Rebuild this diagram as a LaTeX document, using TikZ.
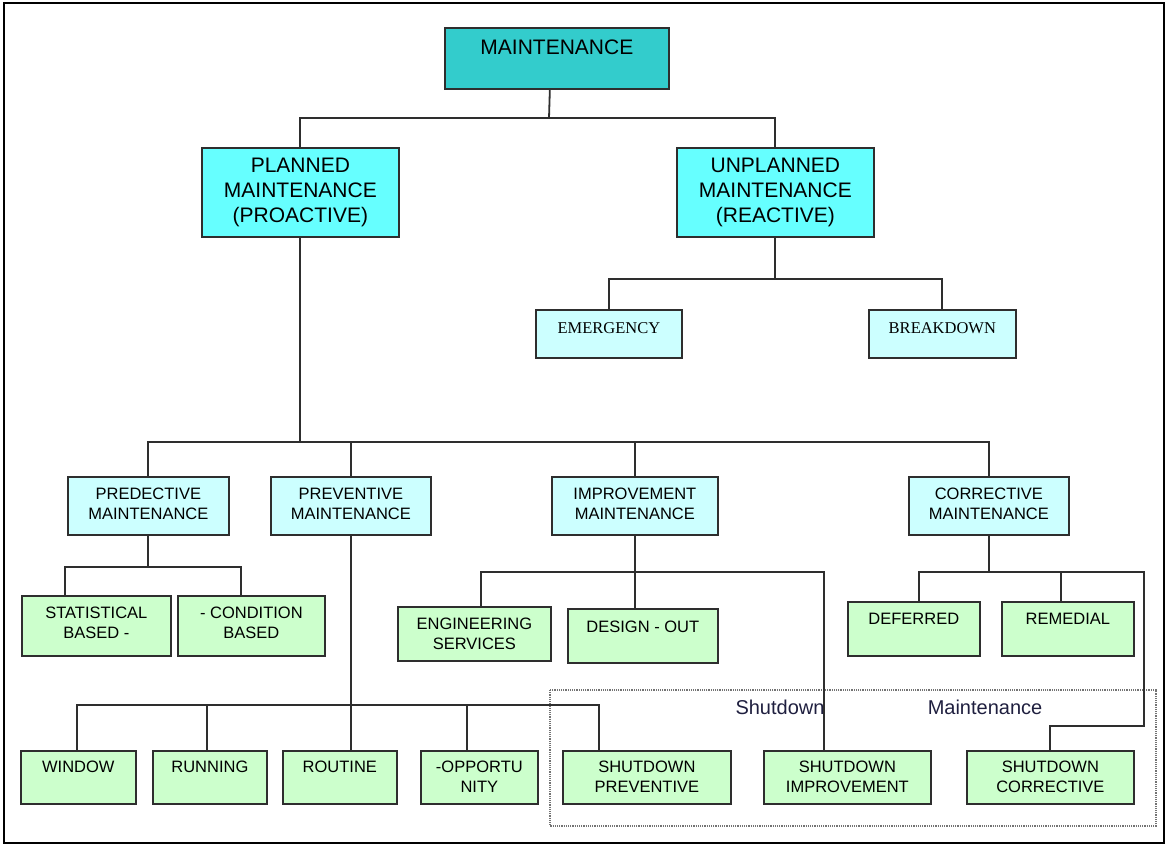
\documentclass[tikz,border=0pt]{standalone}
\usepackage{fontspec}
\setmainfont{Liberation Sans}
\newfontfamily\timesfont{Liberation Serif}
\usepackage{xcolor}
\definecolor{teal1}{HTML}{33CCCC}
\definecolor{cyan1}{HTML}{66FFFF}
\definecolor{cyan2}{HTML}{CCFFFF}
\definecolor{green1}{HTML}{CCFFCC}
\definecolor{line1}{HTML}{2E2E2E}
\definecolor{label1}{HTML}{1F1F3F}

\begin{document}
\begin{tikzpicture}[x=1pt,y=-1pt]
		\tikzset{box/.style = {draw=line1, line width=1.7pt, inner sep=0pt, anchor=north west, align=center, font=\fontsize{16.5}{20}\selectfont}}
		\tikzset{head/.style = {box, fill=cyan1, font=\fontsize{21}{25}\selectfont, minimum width=197pt, text height=75pt, text depth=14pt}}
		\tikzset{type/.style = {box, fill=cyan2, text height=43pt, text depth=15pt}}
		\tikzset{leaf/.style = {box, fill=green1, text depth=#1}}
		\tikzset{low/.style = {leaf=31pt, text height=22pt}}
		\tikzset{lowtwo/.style = {leaf=11pt, text height=42pt}}
		\tikzset{link/.style = {draw=line1, line width=1.8pt}}

		\useasboundingbox (0,0) rectangle (1169,847);
		\draw[line width=2.5pt] (4,3) rectangle (1164,843);

		\node[box, fill=teal1, font=\fontsize{21}{25}\selectfont, minimum width=224pt, text height=27pt, text depth=34pt] (M) at (444,27) {MAINTENANCE};
		\node[head] (P) at (201,147) {PLANNED\\MAINTENANCE\\(PROACTIVE)};
		\node[head] (U) at (676,147) {UNPLANNED\\MAINTENANCE\\(REACTIVE)};

		\node[type, font=\timesfont\fontsize{16.5}{20}\selectfont, minimum width=146pt, text height=24pt, text depth=24pt] (U_1) at (535,309) {EMERGENCY};
		\node[type, font=\timesfont\fontsize{16.5}{20}\selectfont, minimum width=147pt, text height=24pt, text depth=24pt] (U_2) at (868,309) {BREAKDOWN};

		\node[type, minimum width=161pt] (P_1) at (67,476) {PREDECTIVE\\MAINTENANCE};
		\node[type, minimum width=160pt] (P_2) at (270,476) {PREVENTIVE\\MAINTENANCE};
		\node[type, minimum width=166pt] (P_3) at (551,476) {IMPROVEMENT\\MAINTENANCE};
		\node[type, minimum width=160pt] (P_4) at (908,476) {CORRECTIVE\\MAINTENANCE};

		\node[leaf=17pt, text height=43pt, minimum width=149pt] (P_11) at (21,595) {STATISTICAL\\BASED -};
		\node[leaf=17pt, text height=43pt, minimum width=147pt] (P_12) at (177,595) {- CONDITION\\BASED};

		\node[low, minimum width=115pt] (P_21) at (20,750) {WINDOW};
		\node[low, minimum width=114pt] (P_22) at (152,750) {RUNNING};
		\node[low, minimum width=114pt] (P_23) at (282,750) {ROUTINE};
		\node[lowtwo, minimum width=117pt] (P_24) at (420,750) {-OPPORTU\\NITY};
		\node[lowtwo, minimum width=168pt] (P_25) at (562,750) {SHUTDOWN\\PREVENTIVE};

		\node[leaf=11pt, text height=43pt, minimum width=153pt] (P_31) at (397,606) {ENGINEERING\\SERVICES};
		\node[leaf=30pt, text height=24pt, minimum width=150pt] (P_32) at (567,608) {DESIGN - OUT};
		\node[lowtwo, minimum width=167pt] (P_33) at (763,750) {SHUTDOWN\\IMPROVEMENT};

		\node[leaf=31pt, text height=23pt, minimum width=132pt] (P_41) at (847,601) {DEFERRED};
		\node[leaf=31pt, text height=23pt, minimum width=132pt] (P_42) at (1001,601) {REMEDIAL};
		\node[lowtwo, minimum width=167pt] (P_43) at (966,750) {SHUTDOWN\\CORRECTIVE};

		% shutdown frame
		\draw[gray!90!black, densely dotted, line width=1.2pt] (550,690) rectangle (1156,826);
		\node[font=\fontsize{20}{24}\selectfont, text=label1, anchor=base] (S_1) at (780,714) {Shutdown};
		\node[font=\fontsize{20}{24}\selectfont, text=label1, anchor=base] (S_2) at (985,714) {Maintenance};

		% top levels
		\coordinate (j0) at (549,118);
		\draw[link] ([xshift=-7pt]M.south) -- (j0);
		\draw[link] (P.north) |- (j0) -| (U.north);

		\draw[link] (U.south) -- ++(0,41) coordinate (j1);
		\draw[link] (U_1.north) |- (j1) -| (U_2.north);

		\draw[link] (P.south) -- ++(0,204) coordinate (j2);
		\draw[link] (P_1.north) |- (j2) -| (P_4.north);
		\draw[link] (P_2.north) -- (P_2.north |- j2);
		\draw[link] (P_3.north) -- (P_3.north |- j2);

		% predective
		\draw[link] (P_1.south) -- ++(0,31) coordinate (j3);
		\draw[link] ([xshift=-31.5pt]P_11.north) |- (j3) -| ([xshift=-10.5pt]P_12.north);

		% preventive
		\draw[link] (P_2.south) -- ++(0,169) coordinate (j4);
		\draw[link] ([xshift=-1.5pt]P_21.north) |- (j4) -| ([xshift=-48pt]P_25.north);
		\draw[link] ([xshift=-3pt]P_22.north) |- (j4);
		\draw[link] (j4) -- (j4 |- P_23.north);
		\draw[link] ([xshift=-12.5pt]P_24.north) |- (j4);

		% improvement
		\draw[link] (P_3.south) -- ++(0,36) coordinate (j5);
		\draw[link] ([xshift=6.5pt]P_31.north) |- (j5) -| ([xshift=-23.5pt]P_33.north);
		\draw[link] (j5) -- (j5 |- P_32.north);

		% corrective
		\draw[link] (P_4.south) -- ++(0,36) coordinate (j6);
		\draw[link] ([xshift=5pt]P_41.north) |- (j6) -| ([xshift=-7pt]P_42.north);
		\coordinate (c1) at (1144,726);
		\draw[link] (j6) -| (c1) -| (P_43.north);
	\end{tikzpicture}
\end{document}
